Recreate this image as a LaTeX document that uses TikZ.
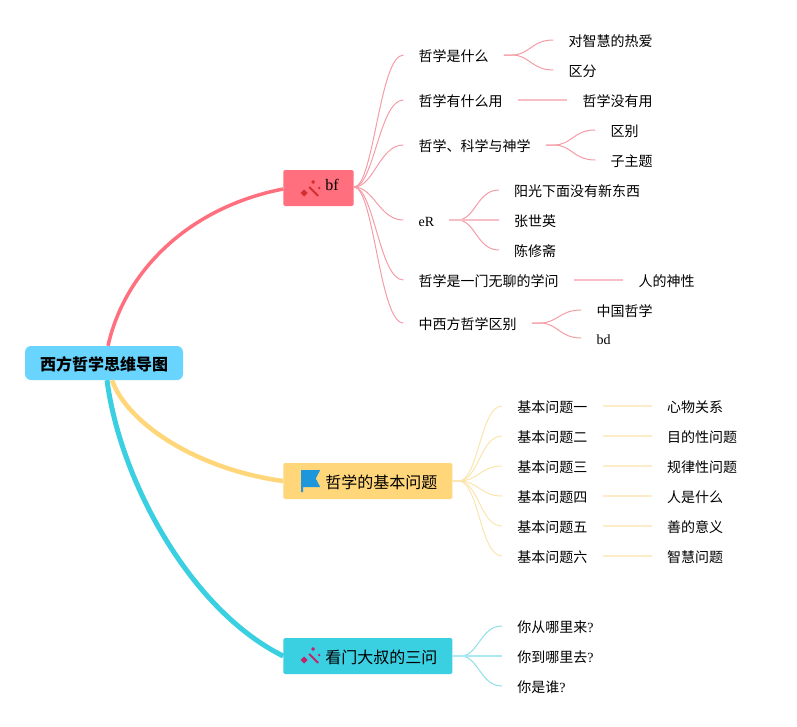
\documentclass[tikz,border=0pt]{standalone}
\usepackage{fontspec}
\setmainfont{Liberation Serif}
\newfontfamily\cjk{Noto Sans CJK SC}
\usetikzlibrary{positioning,calc}

\definecolor{rootblue}{HTML}{69D5FF}
\definecolor{mainred}{HTML}{FF6F7D}
\definecolor{mainyellow}{HTML}{FFD67A}
\definecolor{maincyan}{HTML}{3BCFE2}
\definecolor{linered}{HTML}{F59CA6}
\definecolor{lineyellow}{HTML}{FBE5AE}
\definecolor{linecyan}{HTML}{8EDFE9}
\definecolor{palered}{HTML}{F8BEC5}
\definecolor{paleyellow}{HTML}{FCEDC8}
\definecolor{palecyan}{HTML}{ABE8F0}
\definecolor{wandred}{HTML}{D32F2F}
\definecolor{wandpink}{HTML}{C2246A}
\definecolor{flagblue}{HTML}{1E96DC}

\tikzset{
  rootbox/.style={fill=rootblue, rounded corners=6pt, inner xsep=15pt, inner ysep=0pt,
    minimum height=34pt, text height=14pt, text depth=0pt,
    font=\cjk\bfseries\fontsize{16}{16}\selectfont},
  mainbox/.style={rounded corners=1.5pt, inner xsep=15pt, inner ysep=0pt, minimum height=36pt,
    text height=14pt, text depth=0pt, font=\cjk\fontsize{16}{16}\selectfont},
  item/.style={inner xsep=15pt, inner ysep=0pt, text height=12pt, text depth=0pt,
    font=\cjk\fontsize{14}{14}\selectfont},
  latin/.style={font=\rmfamily\fontsize{14}{14}\selectfont},
  wandicon/.pic={
    \draw[pic actions, line width=2pt] (26,-1) -- (35,8);
    \fill[pic actions] (21,1.5) -- (24.5,5) -- (21,8.5) -- (17.5,5) -- cycle;
    \fill[pic actions] (30,-8) -- (32,-6) -- (30,-4) -- (28,-6) -- cycle;
    \fill[pic actions] (36,-1.3) -- (37.3,0) -- (36,1.3) -- (34.7,0) -- cycle;
  },
  flagicon/.pic={
    \fill[flagblue] (18,-11) -- (37,-11) -- (32.5,-2.5) -- (37,6) -- (20,6) -- (20,11) -- (18,11) -- cycle;
  },
}

\begin{document}
\begin{tikzpicture}[
  x=1pt, y=-1pt,
  node distance=49.5pt,
  thick1/.style={line width=3.5pt, mainred},
  thick2/.style={line width=4.5pt, mainyellow},
  thick3/.style={line width=5pt, maincyan},
  redline/.style={line width=1pt, linered},
  yellowline/.style={line width=1pt, lineyellow},
  cyanline/.style={line width=1pt, linecyan},
  redbar/.style={line width=2pt, palered},
  yellowbar/.style={line width=2pt, paleyellow},
  cyanbar/.style={line width=2pt, palecyan},
]
\useasboundingbox (0,0) rectangle (797,726);

\node[rootbox] (root) at (104,363) {西方哲学思维导图};

\node[mainbox, fill=mainred, right=100pt of root, yshift=175pt, text height=11pt, text depth=6.4pt,
  font=\rmfamily\fontsize{16}{16}\selectfont] (redmain) {\hspace{27pt}bf};
\node[mainbox, fill=mainyellow, right=100pt of root, yshift=-118pt] (yellowmain) {\hspace{27pt}哲学的基本问题};
\node[mainbox, fill=maincyan, right=100pt of root, yshift=-293pt] (cyanmain) {\hspace{27pt}看门大叔的三问};

\pic[wandred] at (redmain.west) {wandicon};
\pic at (yellowmain.west) {flagicon};
\pic[wandpink] at ([yshift=1pt]cyanmain.west) {wandicon};

% upper branch
\node[item, right=of redmain, yshift=133pt] (what) {哲学是什么};
\node[item, right=of redmain, yshift=88pt] (use) {哲学有什么用};
\node[item, right=of redmain, yshift=43pt] (science) {哲学、科学与神学};
\node[item, latin, right=of redmain, yshift=-32pt] (er) {eR};
\node[item, right=of redmain, yshift=-92pt] (boring) {哲学是一门无聊的学问};
\node[item, right=of redmain, yshift=-135pt] (china) {中西方哲学区别};

\node[item, right=of what, yshift=15pt] (love) {对智慧的热爱};
\node[item, right=of what, yshift=-15pt] (differ) {区分};
\node[item, right=of use] (useless) {哲学没有用};
\node[item, right=of science, yshift=15pt] (diff) {区别};
\node[item, right=of science, yshift=-15pt] (subtopic) {子主题};
\node[item, right=of er, yshift=30pt] (sun) {阳光下面没有新东西};
\node[item, right=of er] (zhang) {张世英};
\node[item, right=of er, yshift=-30pt] (chen) {陈修斋};
\node[item, right=of boring] (divine) {人的神性};
\node[item, right=of china, yshift=13pt] (chinese) {中国哲学};
\node[item, latin, right=of china, yshift=-15pt] (bd) {bd};

% middle branch
\foreach \name/\up/\first/\second in {a/75/基本问题一/心物关系, b/45/基本问题二/目的性问题,
    c/15/基本问题三/规律性问题, d/-15/基本问题四/人是什么, e/-45/基本问题五/善的意义, f/-75/基本问题六/智慧问题} {
  \node[item, right=of yellowmain, yshift=\up pt] (q\name) {\first};
  \node[item, right=of q\name] (r\name) {\second};
  \draw[yellowline] (yellowmain.east) -- ++(6,0) .. controls +(20,0) and +(-22,0) .. (q\name.west);
  \draw[yellowbar] (q\name) -- (r\name);
}

% lower branch
\node[item, right=of cyanmain, yshift=30pt] (from) {你从哪里来{\rmfamily ?}};
\node[item, right=of cyanmain] (to) {你到哪里去{\rmfamily ?}};
\node[item, right=of cyanmain, yshift=-30pt] (who) {你是谁{\rmfamily ?}};

\draw[thick1] ([xshift=4pt]root.north) .. controls +(17,-76) and +(-93,18) .. ([yshift=-1pt]redmain.west);
\draw[thick2] ([xshift=8pt]root.south) .. controls +(16,45) and +(-83,-11) .. (yellowmain.west);
\draw[thick3] ([xshift=3pt]root.south) .. controls +(13,100) and +(-93,-46) .. (cyanmain.west);

\foreach \child in {what,use,science,er,boring,china}
  \draw[redline] ([yshift=1pt]redmain.east) .. controls +(20,0) and +(-24,0) .. (\child.west);
\foreach \parent/\child in {what/love,what/differ,science/diff,science/subtopic,er/sun,er/chen,china/chinese,china/bd}
  \draw[redline] (\parent.east) -- ++(8,0) .. controls +(18,0) and +(-22,0) .. (\child.west);
\draw[redbar] (er) -- (zhang);
\draw[redbar] (use) -- (useless);
\draw[redbar] (boring) -- (divine);
\foreach \child in {from,who}
  \draw[cyanline] (cyanmain.east) -- ++(8,0) .. controls +(18,0) and +(-22,0) .. (\child.west);
\draw[cyanbar] (cyanmain.east) -- (to);

\end{tikzpicture}
\end{document}
